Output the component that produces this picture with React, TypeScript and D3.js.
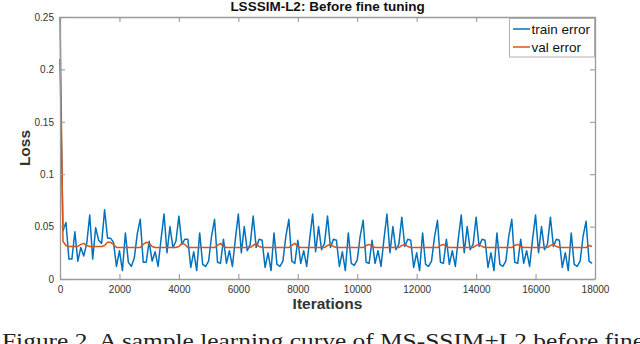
import React, { useEffect, useRef } from 'react';
import * as d3 from 'd3';

// iterations sampled every 100 steps (0 .. 17900)
const iterStep = 100;

const trainError = [
  0.21, 0.046, 0.054, 0.019, 0.019, 0.045, 0.017, 0.030, 0.022, 0.034,
  0.061, 0.019, 0.049, 0.037, 0.034, 0.066, 0.039, 0.039, 0.035, 0.012, 0.027, 0.008, 0.044, 0.016, 0.012, 0.020, 0.043, 0.057, 0.016, 0.016, 0.036, 0.017, 0.026, 0.012, 0.038,
  0.062, 0.025, 0.050, 0.030, 0.036, 0.060, 0.033, 0.038, 0.038, 0.011, 0.026, 0.008, 0.044, 0.014, 0.012, 0.017, 0.041, 0.057, 0.016, 0.015, 0.038, 0.015, 0.027, 0.012, 0.038,
  0.062, 0.025, 0.050, 0.027, 0.033, 0.060, 0.030, 0.038, 0.037, 0.011, 0.025, 0.008, 0.044, 0.014, 0.012, 0.017, 0.041, 0.057, 0.017, 0.015, 0.037, 0.015, 0.027, 0.012, 0.038,
  0.062, 0.026, 0.050, 0.028, 0.034, 0.060, 0.030, 0.038, 0.037, 0.012, 0.026, 0.008, 0.044, 0.015, 0.013, 0.018, 0.041, 0.056, 0.016, 0.015, 0.037, 0.015, 0.027, 0.012, 0.038,
  0.062, 0.025, 0.050, 0.028, 0.033, 0.059, 0.031, 0.038, 0.037, 0.011, 0.025, 0.008, 0.044, 0.014, 0.012, 0.017, 0.040, 0.056, 0.016, 0.015, 0.038, 0.014, 0.027, 0.012, 0.038,
  0.061, 0.025, 0.050, 0.028, 0.033, 0.059, 0.031, 0.038, 0.037, 0.011, 0.025, 0.008, 0.044, 0.014, 0.012, 0.017, 0.041, 0.057, 0.016, 0.015, 0.038, 0.015, 0.027, 0.012, 0.038,
  0.061, 0.025, 0.050, 0.028, 0.033, 0.059, 0.031, 0.038, 0.037, 0.011, 0.025, 0.008, 0.044, 0.014, 0.012, 0.017, 0.041, 0.055, 0.017, 0.015,
];

const valError = [
  0.25, 0.036, 0.032, 0.031, 0.031, 0.031, 0.031, 0.033, 0.034, 0.032,
  0.031, 0.031, 0.031, 0.031, 0.031, 0.032, 0.035, 0.035, 0.033, 0.030,
  0.030, 0.030, 0.030, 0.030, 0.030, 0.030, 0.030, 0.030, 0.033, 0.035,
  0.034, 0.031, 0.030, 0.030, 0.030, 0.030, 0.030, 0.030, 0.030, 0.030,
  0.031, 0.034, 0.033, 0.030, 0.030, 0.030, 0.030, 0.030, 0.030, 0.030,
  0.030, 0.030, 0.030, 0.032, 0.034, 0.031, 0.030, 0.030, 0.030, 0.030,
  0.030, 0.030, 0.030, 0.030, 0.030, 0.032, 0.034, 0.031, 0.030, 0.030,
  0.030, 0.030, 0.030, 0.030, 0.030, 0.030, 0.030, 0.030, 0.032, 0.034,
  0.031, 0.030, 0.030, 0.030, 0.030, 0.030, 0.030, 0.030, 0.030, 0.030,
  0.032, 0.033, 0.031, 0.030, 0.030, 0.030, 0.030, 0.030, 0.030, 0.030,
  0.030, 0.030, 0.030, 0.032, 0.033, 0.031, 0.030, 0.030, 0.030, 0.030,
  0.030, 0.030, 0.030, 0.030, 0.030, 0.032, 0.033, 0.031, 0.030, 0.030,
  0.030, 0.030, 0.030, 0.030, 0.030, 0.030, 0.030, 0.030, 0.032, 0.033,
  0.031, 0.030, 0.030, 0.030, 0.030, 0.030, 0.030, 0.030, 0.030, 0.030,
  0.032, 0.033, 0.031, 0.030, 0.030, 0.030, 0.030, 0.030, 0.030, 0.030,
  0.030, 0.030, 0.030, 0.032, 0.033, 0.031, 0.030, 0.030, 0.030, 0.030,
  0.030, 0.030, 0.030, 0.030, 0.030, 0.032, 0.033, 0.031, 0.030, 0.030,
  0.030, 0.030, 0.030, 0.030, 0.030, 0.030, 0.030, 0.030, 0.032, 0.031,
];

const xTicks = [0, 2000, 4000, 6000, 8000, 10000, 12000, 14000, 16000, 18000];
const yTicks = [0, 0.05, 0.1, 0.15, 0.2, 0.25];
const seriesNames = ['train error', 'val error'];
const seriesColors = ['#0072BD', '#D95319'];

const App = () => {
  const svgRef = useRef<SVGSVGElement>(null);

  useEffect(() => {
    const width = 640;
    const height = 344;
    const left = 60, right = 595, top = 17, bottom = 279;
    const font = 'Liberation Sans, Arial, Helvetica, sans-serif';
    const axisColor = '#9a9a9a';

    const svg = d3.select(svgRef.current);
    svg.selectAll('*').remove();

    const x = d3.scaleLinear().domain([0, 18000]).range([left, right]);
    const y = d3.scaleLinear().domain([0, 0.25]).range([bottom, top]);

    svg.append('rect').attr('width', width).attr('height', height).attr('fill', 'white');

    // lines
    const line = d3.line<number>()
      .x((d, i) => x(i * iterStep))
      .y(d => y(d));

    [trainError, valError].forEach((s, k) => {
      svg.append('path')
        .datum(s)
        .attr('fill', 'none')
        .attr('stroke', seriesColors[k])
        .attr('stroke-width', 1.5)
        .attr('stroke-linejoin', 'round')
        .attr('d', line);
    });

    // box with inward ticks (matlab style)
    const tickLen = 5;
    const axisBottom = d3.axisBottom(x).tickValues(xTicks).tickSizeInner(-tickLen).tickSizeOuter(0).tickPadding(7).tickFormat(d3.format('d'));
    const axisTop = d3.axisTop(x).tickValues(xTicks).tickSizeInner(-tickLen).tickSizeOuter(0).tickFormat(() => '');
    const axisLeft = d3.axisLeft(y).tickValues(yTicks).tickSizeInner(-tickLen).tickSizeOuter(0).tickPadding(6).tickFormat(d => String(+d));
    const axisRight = d3.axisRight(y).tickValues(yTicks).tickSizeInner(-tickLen).tickSizeOuter(0).tickFormat(() => '');

    const styleAxis = (g: any) => {
      g.selectAll('.domain').attr('stroke', axisColor).attr('stroke-width', 1.3);
      g.selectAll('line').attr('stroke', axisColor).attr('stroke-width', 1.1);
      g.selectAll('text').attr('fill', '#333').attr('font-size', 10).attr('font-family', font);
    };

    svg.append('g').attr('transform', `translate(0,${bottom})`).call(axisBottom).call(styleAxis);
    svg.append('g').attr('transform', `translate(0,${top})`).call(axisTop).call(styleAxis);
    svg.append('g').attr('transform', `translate(${left},0)`).call(axisLeft).call(styleAxis);
    svg.append('g').attr('transform', `translate(${right},0)`).call(axisRight).call(styleAxis);

    // title
    svg.append('text')
      .attr('x', (left + right) / 2)
      .attr('y', 11)
      .attr('text-anchor', 'middle')
      .attr('font-family', font)
      .attr('font-weight', 'bold')
      .attr('font-size', 13.5)
      .attr('fill', '#111')
      .text('LSSSIM-L2: Before fine tuning');

    // axis labels
    svg.append('text')
      .attr('x', (left + right) / 2)
      .attr('y', 309)
      .attr('text-anchor', 'middle')
      .attr('font-family', font)
      .attr('font-weight', 'bold')
      .attr('font-size', 15.5)
      .attr('fill', '#333')
      .text('Iterations');

    svg.append('text')
      .attr('transform', `translate(30,${(top + bottom) / 2}) rotate(-90)`)
      .attr('text-anchor', 'middle')
      .attr('font-family', font)
      .attr('font-weight', 'bold')
      .attr('font-size', 15.5)
      .attr('fill', '#333')
      .text('Loss');

    // legend
    const lg = svg.append('g');
    lg.append('rect')
      .attr('x', 509.5).attr('y', 18.5)
      .attr('width', 85).attr('height', 38.5)
      .attr('fill', 'white')
      .attr('stroke', '#b0b0b0')
      .attr('stroke-width', 1);
    seriesNames.forEach((name, k) => {
      const ly = 29 + k * 18;
      lg.append('line')
        .attr('x1', 513).attr('x2', 530)
        .attr('y1', ly).attr('y2', ly)
        .attr('stroke', seriesColors[k])
        .attr('stroke-width', 1.5);
      lg.append('text')
        .attr('x', 531.5).attr('y', ly + 4.8)
        .attr('font-family', font)
        .attr('font-size', 13.5)
        .attr('fill', '#111')
        .text(name);
    });

    // caption (cut by the page bottom, as in the source figure)
    svg.append('text')
      .attr('x', 2)
      .attr('y', 348)
      .attr('font-family', 'Liberation Serif, Times New Roman, serif')
      .attr('font-size', 22)
      .attr('textLength', 642)
      .attr('lengthAdjust', 'spacingAndGlyphs')
      .attr('fill', '#222')
      .text('Figure 2. A sample learning curve of MS-SSIM+L2 before fine');
  }, []);

  return (
    <svg
      ref={svgRef}
      width={640}
      height={344}
      viewBox="0 0 640 344"
      style={{ position: 'absolute', left: 0, top: 0, display: 'block' }}
    />
  );
};

export default App;
